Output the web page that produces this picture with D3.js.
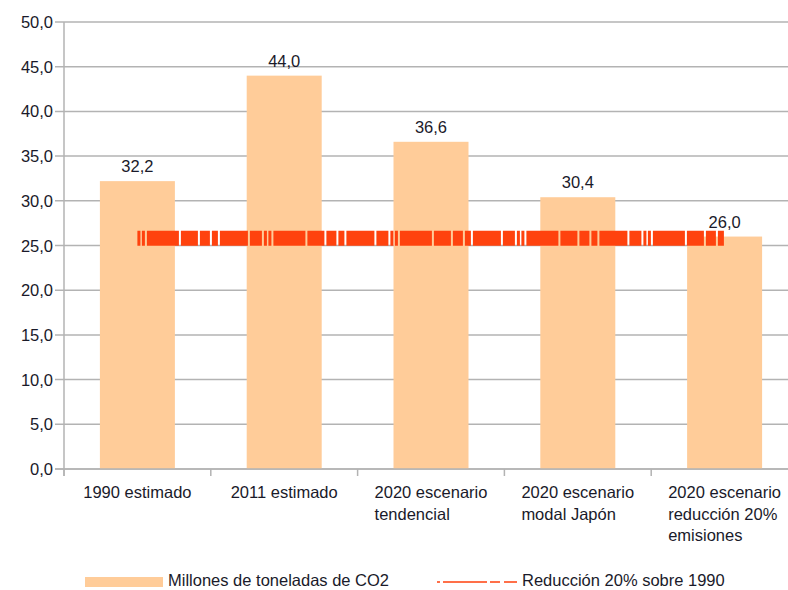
<!DOCTYPE html>
<html>
<head>
<meta charset="utf-8">
<script src="https://cdn.jsdelivr.net/npm/d3@7"></script>
<style>
  html, body { margin: 0; padding: 0; background: #fff; }
  svg { display: block; }
  text { font-family: "Liberation Sans", Arial, sans-serif; fill: #1a1a2a; }
</style>
</head>
<body>
<svg id="chart" width="788" height="590"></svg>
<script>
// ---- data ----
const categories = [
  ["1990 estimado"],
  ["2011 estimado"],
  ["2020 escenario", "tendencial"],
  ["2020 escenario", "modal Japón"],
  ["2020 escenario", "reducción 20%", "emisiones"]
];
const barValues = [32.2, 44.0, 36.6, 30.4, 26.0];
const lineValues = [25.8, 25.8, 25.8, 25.8, 25.8];
const yTicks = [0, 5, 10, 15, 20, 25, 30, 35, 40, 45, 50];
const seriesNames = ["Millones de toneladas de CO2", "Reducción 20% sobre 1990"];

// ---- layout ----
const svg = d3.select("#chart");
const plotL = 64, plotR = 798, plotT = 22, plotB = 469;
const fs = 16.5;
const fmt = v => d3.format(".1f")(v).replace(".", ",");

const x = d3.scaleBand().domain(d3.range(categories.length)).range([plotL, plotR]).paddingInner(0).paddingOuter(0);
const y = d3.scaleLinear().domain([0, 50]).range([plotB, plotT]);

const barColor = "#ffcc99";
const lineColor = "#ff420e";
const gridColor = "#b3b3b3";

// gridlines
svg.append("g").selectAll("line").data(yTicks).join("line")
  .attr("x1", 55).attr("x2", 788)
  .attr("y1", d => y(d)).attr("y2", d => y(d))
  .attr("stroke", gridColor).attr("stroke-width", 1.5);

// y axis line
svg.append("line").attr("x1", plotL).attr("x2", plotL).attr("y1", plotT).attr("y2", plotB + 7)
  .attr("stroke", gridColor).attr("stroke-width", 1.5);

// x tick marks
svg.append("g").selectAll("line").data(d3.range(categories.length)).join("line")
  .attr("x1", d => x(d)).attr("x2", d => x(d))
  .attr("y1", plotB).attr("y2", plotB + 7)
  .attr("stroke", gridColor).attr("stroke-width", 1.5);

// y labels
svg.append("g").selectAll("text").data(yTicks).join("text")
  .attr("x", 53).attr("y", d => y(d) + 6)
  .attr("text-anchor", "end").attr("font-size", fs)
  .text(d => fmt(d));

// bars
const barW = 75;
svg.append("g").selectAll("rect").data(barValues).join("rect")
  .attr("x", (d, i) => x(i) + x.bandwidth() / 2 - barW / 2)
  .attr("y", d => y(d))
  .attr("width", barW)
  .attr("height", d => y(0) - y(d))
  .attr("fill", barColor);

// redraw bottom axis line over bars
svg.append("line").attr("x1", 55).attr("x2", 788).attr("y1", plotB).attr("y2", plotB)
  .attr("stroke", gridColor).attr("stroke-width", 1.5);

// line series
const line = d3.line().x((d, i) => x(i) + x.bandwidth() / 2).y(d => y(d));
svg.append("path").datum(lineValues)
  .attr("d", line)
  .attr("fill", "none")
  .attr("stroke", lineColor)
  .attr("stroke-width", 15)
  .attr("stroke-dasharray", "3,1.5,3,2,32,2,17,2,10,2,6,2,28,2,12,2");

// value labels
svg.append("g").selectAll("text").data(barValues).join("text")
  .attr("x", (d, i) => x(i) + x.bandwidth() / 2)
  .attr("y", d => y(d) - 9)
  .attr("text-anchor", "middle").attr("font-size", fs)
  .text(d => fmt(d));

// x labels (block centred, lines left aligned)
categories.forEach((lines, i) => {
  const g = svg.append("g");
  const t = g.selectAll("text").data(lines).join("text")
    .attr("y", (d, j) => 498 + j * 21.5)
    .attr("font-size", fs)
    .text(d => d);
  let maxW = 0;
  t.each(function() { maxW = Math.max(maxW, this.getComputedTextLength()); });
  t.attr("x", x(i) + x.bandwidth() / 2 - maxW / 2);
});

// legend
svg.append("rect").attr("x", 85).attr("y", 577).attr("width", 78).attr("height", 10).attr("fill", barColor);
svg.append("text").attr("x", 168).attr("y", 586).attr("font-size", fs).text(seriesNames[0]);
svg.append("line").attr("x1", 437).attr("x2", 517).attr("y1", 582).attr("y2", 582)
  .attr("stroke", lineColor).attr("stroke-width", 1.5)
  .attr("stroke-dasharray", "3,3,44,3,10,4,15");
svg.append("text").attr("x", 522).attr("y", 586).attr("font-size", fs).text(seriesNames[1]);
</script>
</body>
</html>
